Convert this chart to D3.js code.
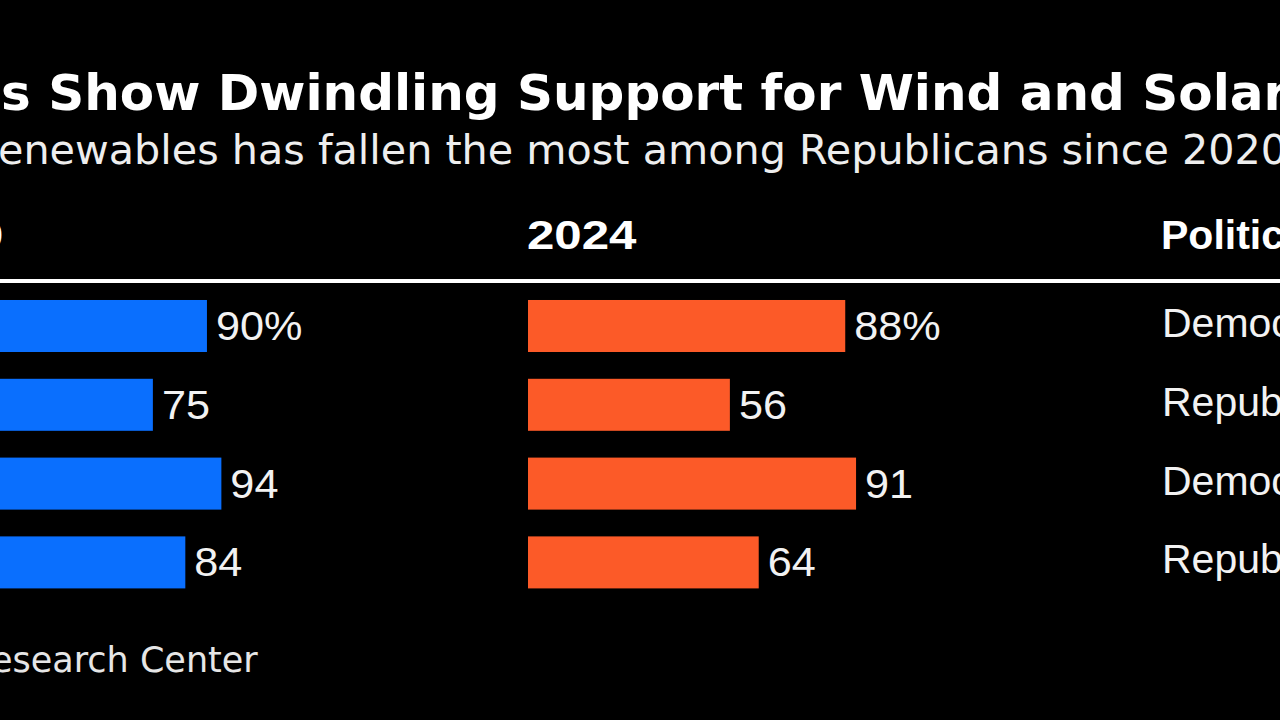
<!DOCTYPE html>
<html>
<head>
<meta charset="utf-8">
<script src="https://cdn.jsdelivr.net/npm/d3@7"></script>
<style>
  html, body { margin: 0; padding: 0; background: #000; overflow: hidden; }
  svg { display: block; }
</style>
</head>
<body>
<svg id="chart" width="1280" height="720"></svg>
<script>
// ---- data ----
const rows = ["Democrats (wind)", "Republicans (wind)", "Democrats (solar)", "Republicans (solar)"];
const rowLabels = ["Democrats", "Republicans", "Democrats", "Republicans"];
const values2020 = [90, 75, 94, 84];
const values2024 = [88, 56, 91, 64];
const years = ["2020", "2024"];
const titleText = "s Show Dwindling Support for Wind and Solar";
const subtitleText = "enewables has fallen the most among Republicans since 2020";
const categoryHeader = "Political party";
const sourceText = "esearch Center";

// ---- layout ----
const W = 1280, H = 720;
const svg = d3.select("#chart").attr("width", W).attr("height", H);
svg.append("rect").attr("width", W).attr("height", H).attr("fill", "#000");

const blue = "#0a6ffe";
const orange = "#fc5a28";
const panelX = { "2020": -117.5, "2024": 528 };
const headerX = { "2020": -106, "2024": 527 };
const x = d3.scaleLinear().domain([0, 100]).range([0, 360.5]);
const y = d3.scaleBand().domain(rows).range([273.2, 615.2]).paddingInner(0.34).paddingOuter(0.34);

// title & subtitle
svg.append("text").attr("x", 1).attr("y", 110)
  .attr("font-family", "DejaVu Sans").attr("font-weight", "bold").attr("font-size", 50)
  .attr("fill", "#fff").text(titleText);
svg.append("text").attr("x", -2).attr("y", 164)
  .attr("font-family", "DejaVu Sans").attr("font-size", 41.3)
  .attr("fill", "#eee").text(subtitleText);

// column headers
years.forEach(yr => {
  svg.append("g").attr("transform", `translate(${headerX[yr]},249) scale(1.2,1)`)
    .append("text").attr("x", 0).attr("y", 0)
    .attr("font-family", "Liberation Sans, Arial, sans-serif").attr("font-weight", "bold")
    .attr("font-size", 41).attr("fill", "#fff").text(yr);
});
svg.append("text").attr("x", 1161).attr("y", 249)
  .attr("font-family", "Liberation Sans, Arial, sans-serif").attr("font-weight", "bold")
  .attr("font-size", 41).attr("fill", "#fff").text(categoryHeader);

// rule
svg.append("rect").attr("x", 0).attr("y", 279).attr("width", W).attr("height", 4).attr("fill", "#fff");

// bars
const series = [
  { year: "2020", values: values2020, color: blue },
  { year: "2024", values: values2024, color: orange }
];
series.forEach(s => {
  const g = svg.append("g").attr("transform", `translate(${panelX[s.year]},0)`);
  g.selectAll("rect").data(s.values).join("rect")
    .attr("x", x(0))
    .attr("y", (d, i) => y(rows[i]))
    .attr("width", d => x(d) - x(0))
    .attr("height", y.bandwidth())
    .attr("fill", s.color);
  g.selectAll("g.lbl").data(s.values).join("g")
    .attr("class", "lbl")
    .attr("transform", (d, i) => `translate(${x(d) + 9},${y(rows[i]) + y.bandwidth() / 2 + 14}) scale(1.08,1)`)
    .append("text")
    .attr("font-family", "Liberation Sans, Arial, sans-serif")
    .attr("font-size", 40)
    .attr("fill", "#f2f2f2")
    .text((d, i) => i === 0 ? d + "%" : d);
});

// category labels
svg.append("g").selectAll("text").data(rows).join("text")
  .attr("x", 1162)
  .attr("y", d => y(d) + y.bandwidth() / 2 + 11)
  .attr("font-family", "Liberation Sans, Arial, sans-serif")
  .attr("font-size", 41)
  .attr("fill", "#f2f2f2")
  .text((d, i) => rowLabels[i]);

// source
svg.append("text").attr("x", -9).attr("y", 672)
  .attr("font-family", "DejaVu Sans").attr("font-size", 35)
  .attr("fill", "#e6e6e6").text(sourceText);
</script>
</body>
</html>
